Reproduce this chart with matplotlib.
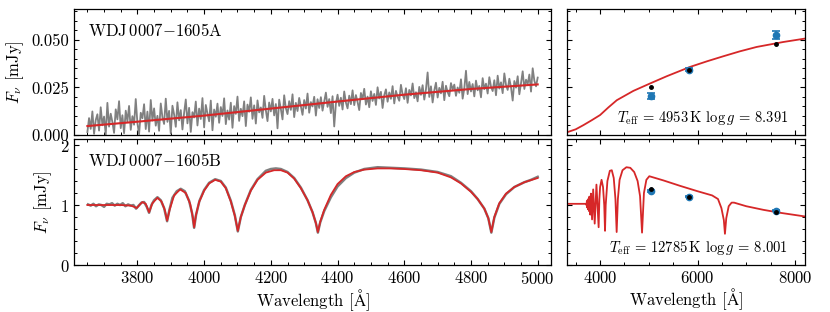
import numpy as np
import matplotlib
matplotlib.use('Agg')
from matplotlib import pyplot as plt
from matplotlib.ticker import MultipleLocator, FormatStrFormatter

# ---- data ----
# WDJ0007-1605A: observed spectrum (micro-Jy), 3650-5000 A on a uniform 5 A grid
flux_a_obs_ujy = [
    1.5, 8.9, 3.2, 12.4, 0.6, 7.8, 10.9, 2.3, 14.6, 5.1,
    9.7, 0.2, 16.9, 4.4, 11.2, 6.8, 1.1, 13.5, 8.2, 17.8,
    3.6, 10.4, 0.9, 12.8, 7.1, 15.3, 2.7, 9.9, 5.4, 18.9,
    6.2, 0.4, 11.7, 8.8, 16.2, 3.1, 12.3, 1.8, 18.4, 7.6,
    14.0, 4.9, 10.1, 2.2, 16.6, 9.3, 5.8, 19.1, 6.9, 12.7,
    0.8, 15.4, 10.8, 4.3, 17.2, 7.7, 13.1, 2.9, 11.6, 18.7,
    6.1, 14.3, 1.6, 12.0, 9.2, 17.6, 5.0, 13.9, 8.4, 19.4,
    4.0, 15.8, 11.3, 7.2, 18.1, 2.5, 13.4, 9.6, 16.5, 6.4,
    14.7, 10.0, 19.3, 5.7, 12.9, 8.1, 17.0, 3.8, 15.2, 11.1,
    20.2, 7.4, 13.8, 9.9, 17.7, 4.7, 16.0, 12.2, 19.8, 8.5,
    15.6, 6.0, 18.2, 11.9, 14.5, 9.0, 20.6, 13.0, 7.3, 17.1,
    12.4, 19.0, 10.3, 16.3, 3.5, 18.6, 13.7, 8.2, 20.9, 14.1,
    11.0, 17.8, 13.2, 21.4, 9.4, 16.9, 12.6, 19.5, 15.1, 10.6,
    18.4, 13.9, 21.8, 11.7, 17.3, 15.0, 20.1, 10.2, 18.8, 14.2,
    19.9, 12.8, 17.6, 22.3, 14.8, 18.9, 11.5, 20.4, 4.5, 16.4,
    21.2, 15.3, 19.6, 13.4, 22.9, 17.1, 14.0, 20.7, 16.2, 23.5,
    15.7, 21.0, 17.4, 13.1, 22.1, 18.8, 24.3, 16.0, 20.2, 14.6,
    23.0, 17.9, 21.6, 15.8, 25.1, 19.2, 22.7, 14.2, 20.9, 24.0,
    17.5, 22.4, 19.0, 25.7, 16.6, 23.2, 20.1, 18.0, 26.4, 21.3,
    18.9, 24.6, 16.9, 23.7, 20.8, 27.1, 19.4, 22.5, 17.7, 25.3,
    21.1, 26.2, 18.6, 24.0, 32.9, 20.0, 25.6, 17.1, 23.4, 27.5,
    19.7, 24.8, 21.9, 28.0, 18.3, 25.9, 22.6, 20.4, 27.3, 23.8,
    26.5, 20.6, 25.0, 22.2, 29.3, 19.1, 24.5, 33.8, 21.5, 27.9,
    22.9, 26.8, 20.3, 28.6, 23.5, 25.8, 19.8, 29.9, 24.1, 27.0,
    21.8, 30.4, 25.4, 23.1, 28.8, 20.9, 31.2, 24.4, 27.7, 22.0,
    32.4, 26.3, 23.7, 29.6, 25.1, 18.1, 28.4, 24.9, 30.9, 21.4,
    27.2, 33.5, 24.2, 29.1, 26.7, 31.8, 22.8, 35.1, 28.5, 25.6,
    30.2,
]
wave_a_obs = np.linspace(3650, 5000, len(flux_a_obs_ujy))

wave_a_model = [3650, 3800, 4000, 4200, 4400, 4600, 4800, 5000]
flux_a_model = [0.0047, 0.0070, 0.0102, 0.0139, 0.0176, 0.0212, 0.0242, 0.0266]

# WDJ0007-1605A: SED model and photometry
wave_a_sed = [3317, 3500, 3658, 3830, 4000, 4170, 4343, 4683, 5026, 5368, 5846,
              6200, 6529, 6870, 7214, 7760, 8205]
flux_a_sed = [0.0014, 0.0030, 0.0052, 0.0078, 0.0105, 0.0145, 0.0183, 0.0232, 0.0271,
              0.0309, 0.0358, 0.0388, 0.0414, 0.0440, 0.0463, 0.0489, 0.0507]
phot_wave = [5046, 5832, 7610]
phot_a = [0.0206, 0.0344, 0.0526]
phot_a_err = [0.0016, 0.0006, 0.0022]
synth_a = [0.0253, 0.0344, 0.0479]

# WDJ0007-1605B: observed spectrum and model
wave_b_obs = [3652, 3660, 3668, 3676, 3684, 3692, 3700, 3708, 3716, 3724, 3732, 3740,
              3748, 3756, 3764, 3772, 3780, 3788, 3796, 3804, 3812, 3820, 3828, 3835,
              3842, 3850, 3860, 3870, 3880, 3889, 3896, 3905, 3918, 3930, 3942, 3955,
              3964, 3970, 3976, 3986, 4000, 4015, 4033, 4050, 4065, 4080, 4092, 4101,
              4110, 4122, 4140, 4160, 4185, 4200, 4215, 4230, 4250, 4270, 4290, 4310,
              4325, 4335, 4341, 4348, 4360, 4380, 4400, 4425, 4450, 4480, 4520, 4560,
              4600, 4650, 4700, 4740, 4770, 4800, 4820, 4840, 4852, 4861, 4870, 4885,
              4905, 4930, 4960, 4980, 5000]
flux_b_obs = [1.01, 0.99, 1.02, 0.98, 1.01, 1.00, 0.97, 1.02, 1.01, 1.03, 0.99, 1.02,
              1.00, 1.03, 0.98, 1.01, 0.99, 1.00, 0.94, 0.99, 1.04, 1.05, 0.97, 0.87,
              1.00, 1.08, 1.13, 1.08, 0.95, 0.73, 0.92, 1.12, 1.23, 1.27, 1.23, 1.07,
              0.86, 0.62, 0.84, 1.07, 1.25, 1.37, 1.43, 1.40, 1.29, 1.07, 0.83, 0.56,
              0.80, 1.00, 1.25, 1.43, 1.57, 1.60, 1.61, 1.60, 1.55, 1.45, 1.29, 1.08,
              0.88, 0.70, 0.54, 0.71, 0.90, 1.13, 1.31, 1.45, 1.54, 1.60, 1.63, 1.62,
              1.61, 1.59, 1.55, 1.48, 1.37, 1.23, 1.10, 0.94, 0.78, 0.54, 0.79, 1.02,
              1.18, 1.30, 1.38, 1.42, 1.47]

wave_b_model = [3650, 3700, 3750, 3780, 3790, 3798, 3806, 3815, 3825, 3835, 3845, 3860,
                3872, 3882, 3889, 3897, 3910, 3928, 3945, 3958, 3966, 3970, 3975, 3985,
                4000, 4015, 4033, 4050, 4065, 4080, 4092, 4101, 4110, 4122, 4140, 4160,
                4185, 4210, 4230, 4250, 4270, 4290, 4310, 4325, 4335, 4341, 4348, 4360,
                4380, 4400, 4425, 4450, 4480, 4520, 4560, 4600, 4650, 4700, 4740, 4770,
                4800, 4820, 4840, 4852, 4861, 4870, 4885, 4905, 4930, 4960, 5000]
flux_b_model = [1.00, 1.00, 1.00, 0.99, 0.97, 0.95, 1.00, 1.05, 1.02, 0.88, 1.03, 1.12,
                1.06, 0.92, 0.74, 0.93, 1.16, 1.26, 1.20, 1.02, 0.80, 0.63, 0.82, 1.05,
                1.24, 1.36, 1.42, 1.39, 1.28, 1.06, 0.82, 0.57, 0.80, 1.00, 1.24, 1.42,
                1.54, 1.58, 1.58, 1.54, 1.44, 1.28, 1.08, 0.88, 0.70, 0.55, 0.72, 0.92,
                1.17, 1.35, 1.48, 1.55, 1.59, 1.61, 1.61, 1.60, 1.58, 1.54, 1.46, 1.36,
                1.22, 1.10, 0.94, 0.78, 0.55, 0.80, 1.03, 1.19, 1.30, 1.38, 1.45]

# WDJ0007-1605B: SED model and photometry
wave_b_sed = [3320, 3500, 3650, 3700, 3720, 3728, 3735, 3742, 3750, 3758, 3770, 3780,
              3798, 3812, 3835, 3858, 3889, 3925, 3970, 3985, 4000, 4030, 4060, 4085,
              4101, 4115, 4150, 4200, 4240, 4280, 4315, 4340, 4365, 4400, 4460, 4540,
              4620, 4700, 4770, 4820, 4861, 4900, 4950, 5010, 5300, 5640, 6000, 6300,
              6420, 6490, 6540, 6563, 6590, 6640, 6700, 6750, 7000, 7350, 7700, 8200]
flux_b_sed = [1.02, 1.02, 1.02, 1.02, 1.00, 1.06, 0.96, 1.08, 0.93, 1.10, 0.90, 1.14,
              0.84, 1.19, 0.76, 1.26, 0.69, 1.34, 0.63, 1.10, 1.30, 1.42, 1.30, 1.00,
              0.57, 1.00, 1.40, 1.57, 1.58, 1.45, 1.10, 0.55, 1.10, 1.42, 1.58, 1.63,
              1.62, 1.55, 1.40, 1.15, 0.54, 1.20, 1.42, 1.48, 1.41, 1.32, 1.23, 1.16,
              1.10, 0.95, 0.75, 0.52, 0.78, 0.98, 1.04, 1.04, 0.98, 0.92, 0.87, 0.81]
phot_b = [1.23, 1.14, 0.905]
phot_b_err = [0.015, 0.012, 0.012]
synth_b = [1.27, 1.14, 0.88]

label_a = r'WDJ$\,$0007$-$1605A'
label_b = r'WDJ$\,$0007$-$1605B'
params_a = r'$T_{\rm eff}$ = 4953$\,$K $\log g$ = 8.391'
params_b = r'$T_{\rm eff}$ = 12785$\,$K $\log g$ = 8.001'

# ---- style ----
plt.rcParams['font.family'] = 'serif'
plt.rcParams['font.serif'] = ['cmr10', 'DejaVu Serif']
plt.rcParams['mathtext.fontset'] = 'cm'
plt.rcParams['axes.formatter.use_mathtext'] = True
plt.rcParams['font.size'] = 12
plt.rcParams['axes.linewidth'] = 0.9
for ax_ in ['xtick', 'ytick']:
    plt.rcParams[ax_ + '.direction'] = 'in'
    plt.rcParams[ax_ + '.major.size'] = 3.6
    plt.rcParams[ax_ + '.minor.size'] = 2.0
    plt.rcParams[ax_ + '.major.width'] = 0.8
    plt.rcParams[ax_ + '.minor.width'] = 0.7
    plt.rcParams[ax_ + '.minor.visible'] = True
plt.rcParams['xtick.top'] = True
plt.rcParams['ytick.right'] = True

red = '#d62728'
blue = '#1f77b4'

fig = plt.figure(figsize=(8.3, 3.12), dpi=100)
ax1 = fig.add_axes([0.0892, 0.5673, 0.5747, 0.4023])
ax2 = fig.add_axes([0.6831, 0.5673, 0.2867, 0.4023])
ax3 = fig.add_axes([0.0892, 0.1506, 0.5747, 0.4038])
ax4 = fig.add_axes([0.6831, 0.1506, 0.2867, 0.4038])

# spectrum A
ax1.plot(wave_a_obs, np.array(flux_a_obs_ujy) / 1000., color='gray', lw=1.3)
ax1.plot(wave_a_model, flux_a_model, color=red, lw=1.5)
ax1.text(0.03, 0.9, label_a, transform=ax1.transAxes, va='top', ha='left')

# SED A
ax2.plot(wave_a_sed, flux_a_sed, color=red, lw=1.3)
ax2.errorbar(phot_wave, phot_a, yerr=phot_a_err, fmt='o', color=blue, ms=4.5,
             capsize=3, elinewidth=1.2, capthick=1.2, zorder=3)
ax2.plot(phot_wave, synth_a, 'o', color='k', ms=2.5, zorder=4)
ax2.text(0.93, 0.1, params_a, transform=ax2.transAxes, ha='right', va='baseline',
         fontsize=10.5)

# spectrum B
ax3.plot(wave_b_obs, flux_b_obs, color='gray', lw=1.8)
ax3.plot(wave_b_model, flux_b_model, color=red, lw=1.3)
ax3.text(0.03, 0.9, label_b, transform=ax3.transAxes, va='top', ha='left')

# SED B
ax4.plot(wave_b_sed, flux_b_sed, color=red, lw=1.3)
ax4.errorbar(phot_wave, phot_b, yerr=phot_b_err, fmt='o', color=blue, ms=4.5,
             capsize=3, elinewidth=1.2, capthick=1.2, zorder=3)
ax4.plot(phot_wave, synth_b, 'o', color='k', ms=2.5, zorder=4)
ax4.text(0.93, 0.1, params_b, transform=ax4.transAxes, ha='right', va='baseline',
         fontsize=10.5)

# axes
for ax in [ax1, ax3]:
    ax.set_xlim(3610, 5040)
    ax.xaxis.set_major_locator(MultipleLocator(200))
    ax.xaxis.set_minor_locator(MultipleLocator(50))
    ax.set_ylabel(r'$F_\nu$ [mJy]')
for ax in [ax2, ax4]:
    ax.set_xlim(3320, 8205)
    ax.xaxis.set_major_locator(MultipleLocator(2000))
    ax.xaxis.set_minor_locator(MultipleLocator(500))
for ax in [ax1, ax2]:
    ax.set_ylim(0, 0.066)
    ax.yaxis.set_major_locator(MultipleLocator(0.025))
    ax.yaxis.set_minor_locator(MultipleLocator(0.005))
    ax.set_xticklabels([])
ax1.yaxis.set_major_formatter(FormatStrFormatter('%.3f'))
ax2.yaxis.set_major_formatter(FormatStrFormatter(''))
for ax in [ax3, ax4]:
    ax.set_ylim(0, 2.1)
    ax.yaxis.set_major_locator(MultipleLocator(1))
    ax.yaxis.set_minor_locator(MultipleLocator(0.2))
    ax.set_xlabel(r'Wavelength [$\mathrm{\AA}$]', labelpad=0)
ax4.yaxis.set_major_formatter(FormatStrFormatter(''))

fig.savefig('out.png', dpi=100)
